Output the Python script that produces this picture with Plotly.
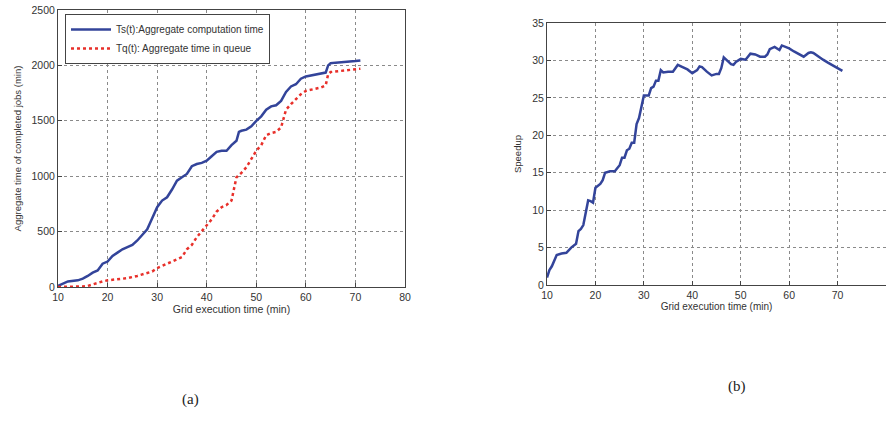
import plotly.graph_objects as go

# ---- data: panel (a) ----
ts_x = [10, 11, 12, 14, 15, 16, 17, 18, 19, 20, 21, 22, 23, 24, 25, 26, 27, 28, 29, 30,
        31, 32, 33, 34, 35, 36, 37, 38, 39, 40, 41, 42, 43, 44, 45, 46, 46.5, 47, 48, 49,
        50, 51, 52, 53, 54, 55, 56, 57, 58, 59, 60, 61, 62, 63, 64, 64.5, 65, 66, 68, 70, 71]
ts_y = [10, 30, 50, 60, 75, 100, 130, 150, 210, 230, 280, 310, 340, 360, 380, 420, 470, 520, 620, 720,
        780, 810, 880, 960, 990, 1020, 1090, 1110, 1120, 1140, 1180, 1220, 1230, 1230, 1280, 1320, 1400, 1410, 1420, 1450,
        1500, 1540, 1600, 1630, 1640, 1680, 1760, 1810, 1830, 1880, 1900, 1910, 1920, 1930, 1935, 2000, 2020, 2025, 2030, 2040, 2045]

tq_x = [10, 12, 15, 16, 17, 18, 19, 20, 22, 24, 26, 28, 29, 30, 31, 32, 33, 34, 35, 36,
        37, 38, 39, 40, 41, 42, 43, 44, 45, 46, 47, 48, 49, 50, 51, 52, 53, 54, 55, 56,
        57, 58, 59, 60, 61, 62, 63, 64, 64.5, 65, 67, 69, 71]
tq_y = [0, 0, 5, 10, 25, 40, 50, 60, 70, 80, 100, 130, 140, 170, 190, 210, 230, 250, 270, 340,
        380, 450, 500, 560, 610, 680, 720, 740, 780, 990, 1030, 1080, 1150, 1230, 1280, 1370, 1390, 1400, 1440, 1600,
        1650, 1700, 1740, 1770, 1780, 1790, 1800, 1820, 1920, 1940, 1950, 1960, 1970]

# ---- data: panel (b) ----
sp_x = [10, 10.5, 11, 12, 13, 14, 15, 16, 16.5, 17, 17.5, 18, 18.5, 19, 19.5, 20, 21, 21.5, 22, 23,
        24, 25, 25.5, 26, 26.5, 27, 27.5, 28, 28.5, 29, 29.5, 30, 31, 31.5, 32, 32.5, 33, 33.5, 34, 34.5,
        35, 36, 37, 38, 39, 40, 41, 41.5, 42, 43, 44, 45, 45.5, 46, 46.5, 47, 48, 48.5, 49, 50,
        51, 52, 53, 54, 55, 55.5, 56, 57, 58, 58.5, 59, 60, 61, 62, 63, 64, 64.5, 65, 66, 67,
        68, 69, 70, 71]
sp_y = [1, 2, 2.5, 4, 4.2, 4.3, 5, 5.5, 7.2, 7.5, 8, 9.5, 11.3, 11.2, 11, 13, 13.5, 14, 15, 15.2,
        15.2, 16, 17, 17, 18, 18.2, 19, 19, 21.5, 22.3, 24, 25.3, 25.3, 26.3, 26.5, 27.3, 27.3, 28.7, 28.4, 28.5,
        28.5, 28.5, 29.4, 29.1, 28.8, 28.3, 28.7, 29.2, 29.1, 28.5, 28, 28.2, 28.2, 29, 30.4, 30.1, 29.5, 29.4, 29.8, 30.2,
        30.1, 30.9, 30.8, 30.5, 30.5, 30.8, 31.5, 31.8, 31.4, 32, 31.9, 31.6, 31.2, 30.8, 30.5, 31, 31.1, 31, 30.5, 30.1,
        29.7, 29.3, 28.9, 28.6]

x_ticks = [10, 20, 30, 40, 50, 60, 70, 80]
ya_ticks = [0, 500, 1000, 1500, 2000, 2500]
yb_ticks = [0, 5, 10, 15, 20, 25, 30, 35]

BLUE = "#33449a"
RED = "#e8302a"
FONT = "Liberation Sans"

fig = go.Figure()
fig.add_trace(go.Scatter(x=ts_x, y=ts_y, mode="lines", name="Ts(t):Aggregate computation time",
                         line=dict(color=BLUE, width=2.5), xaxis="x", yaxis="y"))
fig.add_trace(go.Scatter(x=tq_x, y=tq_y, mode="lines", name="Tq(t): Aggregate time in queue",
                         line=dict(color=RED, width=2.5, dash="dot"), xaxis="x", yaxis="y"))
fig.add_trace(go.Scatter(x=sp_x, y=sp_y, mode="lines", name="Speedup", showlegend=False,
                         line=dict(color=BLUE, width=2.5), xaxis="x2", yaxis="y2"))

axis_common = dict(showgrid=True, gridcolor="#8a8a8a", griddash="dot", gridwidth=1,
                   showline=True, linecolor="#444444", linewidth=1, mirror=True,
                   ticks="inside", ticklen=4, tickcolor="#444444", zeroline=False,
                   automargin=False,
                   tickfont=dict(family=FONT, size=10.5, color="#333333"))

fig.update_layout(
    width=886, height=427,
    margin=dict(l=0, r=0, t=0, b=0),
    paper_bgcolor="white", plot_bgcolor="white",
    font=dict(family=FONT, color="#333333"),
    xaxis=dict(domain=[58/886, 405/886], range=[10, 80], tickvals=x_ticks, anchor="y",
               title=dict(text="Grid execution time (min)", font=dict(size=10.5), standoff=3), **axis_common),
    yaxis=dict(domain=[1-287/427, 1-10/427], range=[0, 2500], tickvals=ya_ticks, anchor="x",
               title=dict(text="Aggregate time of completed jobs (min)", font=dict(size=9.5), standoff=8), **axis_common),
    xaxis2=dict(domain=[547/886, 1.0], range=[10, 80], tickvals=x_ticks, anchor="y2",
                title=dict(text="Grid execution time (min)", font=dict(size=10), standoff=0), **axis_common),
    yaxis2=dict(domain=[1-285/427, 1-23/427], range=[0, 35], tickvals=yb_ticks, anchor="x2",
                title=dict(text="Speedup", font=dict(size=9.5), standoff=8), **axis_common),
    legend=dict(x=65/886, y=1-14/427, xanchor="left", yanchor="top",
                bgcolor="white", bordercolor="#444444", borderwidth=1,
                font=dict(family=FONT, size=10, color="#333333"),
                tracegroupgap=0, itemwidth=40),
    showlegend=True,
    annotations=[
        dict(text="(a)", x=180/886, y=1-410/427, xref="paper", yref="paper", showarrow=False,
             font=dict(family="Liberation Serif", size=15, color="#222222")),
        dict(text="(b)", x=748/886, y=1-397/427, xref="paper", yref="paper", showarrow=False,
             font=dict(family="Liberation Serif", size=15, color="#222222")),
    ],
)

fig.write_html("out.html", config={"displayModeBar": False},
               post_script="document.body.style.margin='0';document.body.style.overflow='hidden';")
